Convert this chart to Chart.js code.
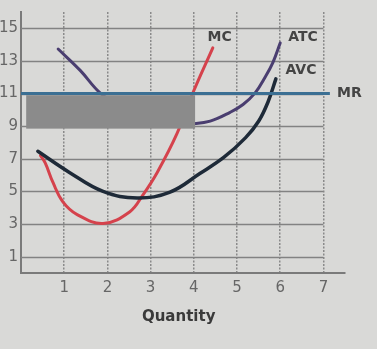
<!DOCTYPE html>
<html>
<head>
<meta charset="utf-8">
<script src="https://cdn.jsdelivr.net/npm/chart.js@4"></script>
<style>
  html, body { margin: 0; padding: 0; background: #d9d9d7; }
  #wrap { width: 377px; height: 349px; }
</style>
</head>
<body>
<div id="wrap"><canvas id="c" width="377" height="349"></canvas></div>
<script>
// ---- data ----
const xTicks = [1, 2, 3, 4, 5, 6, 7];
const yTicks = [1, 3, 5, 7, 9, 11, 13, 15];

const mcX  = [0.45, 0.56, 0.74, 0.97, 1.3, 1.9, 2.52, 2.82, 3.15, 3.61, 3.98, 4.44];
const mcY  = [7.2, 6.75, 5.55, 4.36, 3.58, 3.04, 3.76, 4.78, 6.15, 8.54, 11.05, 13.8];

const avcX = [0.39, 1.13, 1.9, 2.69, 3.45, 4.14, 4.7, 5.2, 5.5, 5.72, 5.9];
const avcY = [7.46, 6.15, 5.0, 4.6, 4.96, 6.1, 7.1, 8.3, 9.3, 10.5, 11.9];

const atcX = [0.86, 1.37, 1.83, 2.3, 2.8, 3.3, 3.7, 3.91, 4.38, 4.84, 5.14, 5.42, 5.65, 5.83, 6.0];
const atcY = [13.73, 12.42, 11.04, 10.2, 9.6, 9.25, 9.1, 9.13, 9.31, 9.85, 10.33, 11.04, 12.0, 12.9, 14.1];

const mrX  = [0, 7.15];
const mrY  = [11, 11];

const curveLabels = ['MC', 'ATC', 'AVC', 'MR'];
const labelX = [4.6, 6.53, 6.48, 7.6];
const labelY = [14.45, 14.45, 12.42, 11.0];

// redaction box (grey) in data units
const boxX = [0.12, 4.03];
const boxY = [8.85, 10.9];

const xTitle = 'Quantity';

const pts = (xs, ys) => xs.map((x, i) => ({ x: x, y: ys[i] }));

const overlay = {
  id: 'overlay',
  beforeDatasetsDraw(chart) {
    const { ctx, scales: { x, y } } = chart;
    ctx.save();
    ctx.strokeStyle = '#828282';
    ctx.lineWidth = 1.6;
    yTicks.forEach(v => {
      const py = Math.round(y.getPixelForValue(v)) + 0.5;
      ctx.beginPath();
      ctx.moveTo(x.getPixelForValue(0), py);
      ctx.lineTo(x.getPixelForValue(7), py);
      ctx.stroke();
    });
    ctx.restore();
  },
  afterDatasetsDraw(chart) {
    const { ctx, scales: { x, y } } = chart;
    ctx.save();
    // grey box
    const x0 = x.getPixelForValue(boxX[0]), x1 = x.getPixelForValue(boxX[1]);
    const y0 = y.getPixelForValue(boxY[1]), y1 = y.getPixelForValue(boxY[0]);
    ctx.fillStyle = '#8b8b8b';
    ctx.fillRect(x0, y0, x1 - x0, y1 - y0);
    // MR on top
    ctx.strokeStyle = '#3b6f93';
    ctx.lineWidth = 3;
    ctx.beginPath();
    ctx.moveTo(x.getPixelForValue(mrX[0]), y.getPixelForValue(mrY[0]));
    ctx.lineTo(x.getPixelForValue(mrX[1]), y.getPixelForValue(mrY[1]));
    ctx.stroke();
    // curve labels
    ctx.fillStyle = '#444';
    ctx.font = 'bold 14px "DejaVu Sans"';
    ctx.textBaseline = 'middle';
    ctx.textAlign = 'center';
    curveLabels.forEach((t, i) => {
      ctx.fillText(t, x.getPixelForValue(labelX[i]), y.getPixelForValue(labelY[i]));
    });
    // axis title
    ctx.fillStyle = '#3a3a3a';
    ctx.font = 'bold 15px "DejaVu Sans"';
    ctx.fillText(xTitle, x.getPixelForValue(3.65), 317);
    ctx.restore();
  }
};

new Chart(document.getElementById('c'), {
  type: 'line',
  data: {
    datasets: [
      { label: 'AVC', data: pts(avcX, avcY), borderColor: '#1e2a38', borderWidth: 3.5 },
      { label: 'ATC', data: pts(atcX, atcY), borderColor: '#4a3e70', borderWidth: 3 },
      { label: 'MC',  data: pts(mcX, mcY),  borderColor: '#d5424c', borderWidth: 3 }
    ]
  },
  options: {
    responsive: false,
    animation: false,
    events: [],
    layout: { padding: { top: 5, right: 32, left: 0, bottom: 0 } },
    elements: {
      point: { radius: 0 },
      line: { tension: 0.4, fill: false, borderCapStyle: 'round', borderJoinStyle: 'round' }
    },
    plugins: { legend: { display: false }, tooltip: { enabled: false } },
    scales: {
      x: {
        type: 'linear', min: 0, max: 7.5,
        afterBuildTicks: s => { s.ticks = xTicks.map(v => ({ value: v })); },
        afterFit: s => { s.height = 76; },
        ticks: { color: '#666', font: { family: 'DejaVu Sans', size: 15 }, padding: 6 },
        grid: { color: '#8a8a8a', lineWidth: 1.5, drawTicks: false },
        border: { color: '#7a7a7a', width: 2, dash: [2, 1.5] }
      },
      y: {
        type: 'linear', min: 0, max: 16,
        afterBuildTicks: s => { s.ticks = yTicks.map(v => ({ value: v })); },
        afterFit: s => { s.width = 21; },
        ticks: { color: '#666', font: { family: 'DejaVu Sans', size: 15 }, padding: 3 },
        grid: { display: false, drawTicks: false },
        border: { color: '#7a7a7a', width: 2 }
      }
    }
  },
  plugins: [overlay]
});
</script>
</body>
</html>
